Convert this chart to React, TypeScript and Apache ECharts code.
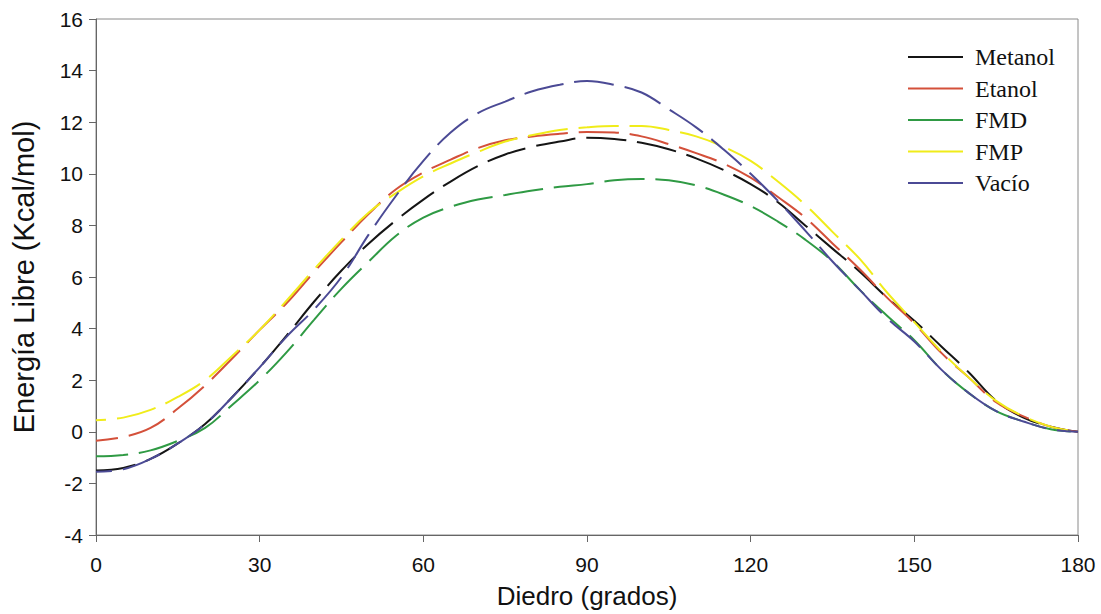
import React, { useEffect, useRef } from "react";
import * as echarts from "echarts";

const angles = [0, 5, 10, 15, 20, 25, 30, 35, 40, 45, 50, 55, 60, 65, 70, 75, 80, 85, 90, 95, 100, 105, 110, 115, 120, 125, 130, 135, 140, 145, 150, 155, 160, 165, 170, 175, 180];

const metanol = [-1.5, -1.4, -1.05, -0.45, 0.3, 1.35, 2.5, 3.75, 5.05, 6.25, 7.3, 8.2, 9.0, 9.7, 10.3, 10.75, 11.05, 11.25, 11.4, 11.35, 11.2, 10.95, 10.6, 10.15, 9.6, 8.9, 8.0, 7.1, 6.2, 5.2, 4.3, 3.3, 2.3, 1.2, 0.55, 0.2, 0];
const etanol = [-0.35, -0.2, 0.15, 0.9, 1.8, 2.85, 3.95, 5.0, 6.2, 7.35, 8.45, 9.4, 10.05, 10.55, 11.0, 11.3, 11.45, 11.55, 11.62, 11.6, 11.45, 11.15, 10.8, 10.4, 9.85, 9.1, 8.3, 7.3, 6.3, 5.2, 4.2, 3.05, 2.1, 1.15, 0.6, 0.2, 0];
const fmd = [-0.95, -0.9, -0.72, -0.35, 0.15, 1.05, 2.0, 3.1, 4.35, 5.55, 6.6, 7.6, 8.3, 8.72, 9.0, 9.18, 9.35, 9.5, 9.6, 9.75, 9.8, 9.75, 9.55, 9.2, 8.75, 8.15, 7.45, 6.6, 5.5, 4.5, 3.55, 2.4, 1.5, 0.8, 0.4, 0.1, 0];
const fmp = [0.45, 0.55, 0.85, 1.35, 2.0, 2.95, 3.95, 5.1, 6.3, 7.45, 8.5, 9.25, 9.9, 10.4, 10.85, 11.25, 11.5, 11.7, 11.8, 11.85, 11.85, 11.7, 11.45, 11.05, 10.5, 9.7, 8.8, 7.75, 6.7, 5.4, 4.25, 3.1, 2.1, 1.2, 0.6, 0.2, 0];
const vacio = [-1.55, -1.45, -1.05, -0.45, 0.3, 1.35, 2.5, 3.7, 4.75, 6.0, 7.65, 9.15, 10.5, 11.6, 12.35, 12.8, 13.2, 13.45, 13.6, 13.45, 13.15, 12.5, 11.8, 10.95, 10.0, 8.95, 7.8, 6.6, 5.5, 4.4, 3.5, 2.4, 1.5, 0.8, 0.4, 0.1, 0];

const seriesNames = ["Metanol", "Etanol", "FMD", "FMP", "Vacío"];
const seriesData = [metanol, etanol, fmd, fmp, vacio];
const seriesColors = ["#151515", "#d4503a", "#2f9a44", "#f0ec1a", "#4b4a95"];
const dashOffsets = [0, 18, 8, 30, 24];

const xTitle = "Diedro (grados)";
const yTitle = "Energía Libre (Kcal/mol)";

export default function App() {
  const ref = useRef<HTMLDivElement>(null);
  useEffect(() => {
    if (!ref.current) return;
    const chart = echarts.init(ref.current, undefined, { renderer: "svg" });
    const sans = "'Liberation Sans', Arial, sans-serif";
    chart.setOption({
      animation: false,
      backgroundColor: "#ffffff",
      grid: {
        left: 96,
        right: 23,
        top: 19,
        bottom: 79,
        show: true,
        borderColor: "#8a8a8a",
        borderWidth: 1,
      },
      legend: {
        orient: "vertical",
        left: 903,
        top: 40,
        itemWidth: 55,
        itemHeight: 2,
        itemGap: 7.5,
        icon: "rect",
        textStyle: {
          fontFamily: "'Liberation Serif', 'Times New Roman', serif",
          fontSize: 24,
          lineHeight: 20,
          color: "#111",
          padding: [0, 0, 0, 7],
        },
        data: seriesNames,
      },
      xAxis: {
        type: "value",
        min: 0,
        max: 180,
        interval: 30,
        name: xTitle,
        nameLocation: "middle",
        nameGap: 48,
        nameTextStyle: { fontFamily: sans, fontSize: 26, color: "#111" },
        axisLine: { show: true, onZero: false, lineStyle: { color: "#666", width: 1 } },
        axisTick: { show: true, length: 7, lineStyle: { color: "#666" } },
        axisLabel: { fontFamily: sans, fontSize: 21, color: "#111", margin: 19 },
        splitLine: { show: false },
      },
      yAxis: {
        type: "value",
        min: -4,
        max: 16,
        interval: 2,
        name: yTitle,
        nameLocation: "middle",
        nameGap: 58,
        nameTextStyle: { fontFamily: sans, fontSize: 29, color: "#111" },
        axisLine: { show: true, onZero: false, lineStyle: { color: "#666", width: 1 } },
        axisTick: { show: true, length: 7, lineStyle: { color: "#666" } },
        axisLabel: { fontFamily: sans, fontSize: 21, color: "#111", margin: 13 },
        splitLine: { show: false },
      },
      series: seriesNames.map((name, i) => ({
        name,
        type: "line",
        smooth: 0.4,
        symbol: "none",
        showSymbol: false,
        color: seriesColors[i],
        lineStyle: {
          color: seriesColors[i],
          width: 2,
          type: [40, 11],
          dashOffset: dashOffsets[i],
        },
        data: angles.map((a, j) => [a, seriesData[i][j]]),
      })),
    });
    return () => chart.dispose();
  }, []);
  return (
    <div
      ref={ref}
      style={{ position: "fixed", left: 0, top: 0, width: 1101, height: 614, background: "#fff" }}
    />
  );
}
